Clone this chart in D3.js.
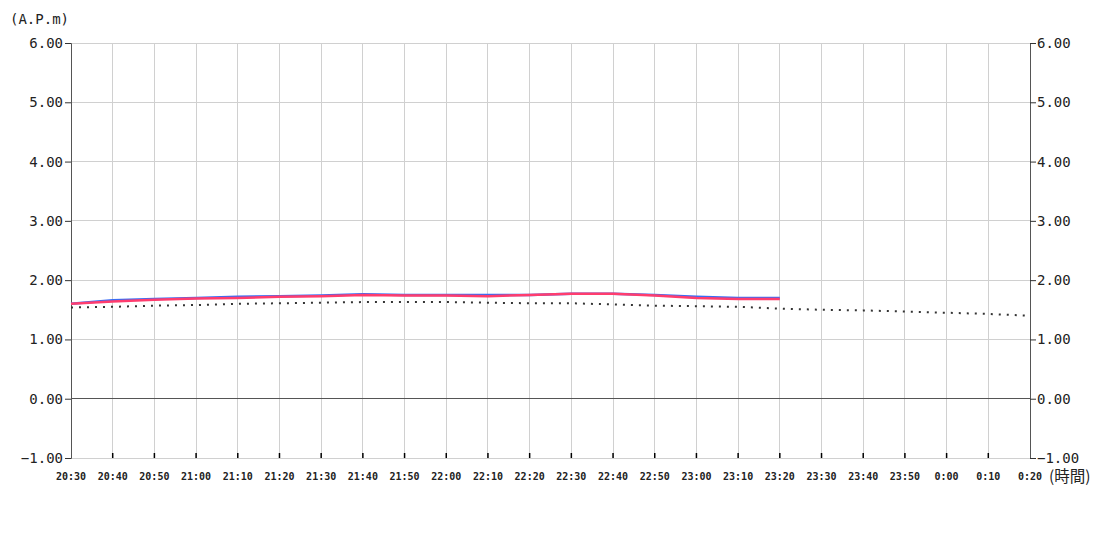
<!DOCTYPE html>
<html><head><meta charset="utf-8">
<script src="https://cdn.jsdelivr.net/npm/d3@7"></script>
<style>body{margin:0;background:#fff}svg{display:block}</style>
</head><body><svg id="c" width="1100" height="550"></svg>
<script>
const timeLabels = ["20:30","20:40","20:50","21:00","21:10","21:20","21:30","21:40","21:50","22:00","22:10","22:20","22:30","22:40","22:50","23:00","23:10","23:20","23:30","23:40","23:50","0:00","0:10","0:20"];
const blueValues = [1.60,1.66,1.68,1.70,1.72,1.73,1.74,1.76,1.75,1.75,1.75,1.75,1.77,1.77,1.75,1.72,1.70,1.70];
const redValues  = [1.60,1.64,1.67,1.69,1.70,1.72,1.73,1.75,1.74,1.74,1.73,1.75,1.77,1.77,1.74,1.70,1.68,1.68];
const dottedValues = [1.54,1.55,1.57,1.58,1.60,1.61,1.62,1.63,1.63,1.63,1.62,1.61,1.61,1.59,1.57,1.56,1.55,1.52,1.50,1.49,1.47,1.45,1.43,1.40];
const yTicks = [-1,0,1,2,3,4,5,6];

const svg = d3.select("#c");
const L=71,R=1030,T=43,B=458;
const x = d3.scalePoint().domain(timeLabels).range([L,R]);
const y = d3.scaleLinear().domain([-1,6]).range([B,T]);
const font = "'DejaVu Sans Mono', monospace";

// grid
svg.append("g").selectAll("line").data(timeLabels.slice(1)).join("line")
  .attr("x1",d=>x(d)).attr("x2",d=>x(d)).attr("y1",T).attr("y2",B)
  .attr("stroke","#d0d0d0").attr("stroke-width",1).attr("shape-rendering","crispEdges");
svg.append("g").selectAll("line").data(yTicks).join("line")
  .attr("x1",L).attr("x2",R).attr("y1",d=>y(d)).attr("y2",d=>y(d))
  .attr("stroke",d=>d===0?"#555":"#d0d0d0").attr("stroke-width",1).attr("shape-rendering","crispEdges");

// bottom inward ticks
svg.append("g").selectAll("line").data(timeLabels.slice(1,-1)).join("line")
  .attr("x1",d=>x(d)).attr("x2",d=>x(d)).attr("y1",B-5).attr("y2",B)
  .attr("stroke","#000").attr("stroke-width",1.5);

// axes
const la = svg.append("g").attr("transform",`translate(${L},0)`)
  .call(d3.axisLeft(y).tickValues(yTicks).tickFormat(d3.format(".2f")).tickSize(6).tickPadding(2));
const ra = svg.append("g").attr("transform",`translate(${R},0)`)
  .call(d3.axisRight(y).tickValues(yTicks).tickFormat(d3.format(".2f")).tickSize(6).tickPadding(1));
[la,ra].forEach(a=>{
  a.select(".domain").attr("stroke","#555").attr("stroke-width",1);
  a.selectAll(".tick line").attr("stroke","#333");
  a.selectAll("text").attr("font-family",font).attr("font-size",14).attr("fill","#222");
});

// x labels
svg.append("g").selectAll("text").data(timeLabels).join("text")
  .attr("x",d=>x(d)).attr("y",480).attr("text-anchor","middle")
  .attr("font-family",font).attr("font-size",10).attr("font-weight","bold").attr("fill","#222")
  .text(d=>d);

svg.append("text").attr("x",10).attr("y",24).attr("font-family",font).attr("font-size",14).attr("fill","#222").text("(A.P.m)");
svg.append("text").attr("x",1049).attr("y",482).attr("font-family","'Noto Sans CJK JP', "+font).attr("font-size",15.5).attr("fill","#222").text("(時間)");

const line = d3.line().x((d,i)=>x(timeLabels[i])).y(d=>y(d));
svg.append("path").datum(dottedValues).attr("d",line).attr("fill","none")
  .attr("stroke","#333").attr("stroke-width",2).attr("stroke-dasharray","2,6");
svg.append("path").datum(blueValues).attr("d",line).attr("fill","none")
  .attr("stroke","#3a6cf4").attr("stroke-width",2.5);
svg.append("path").datum(redValues).attr("d",line).attr("fill","none")
  .attr("stroke","#ff3d6e").attr("stroke-width",2.5);
</script></body></html>
